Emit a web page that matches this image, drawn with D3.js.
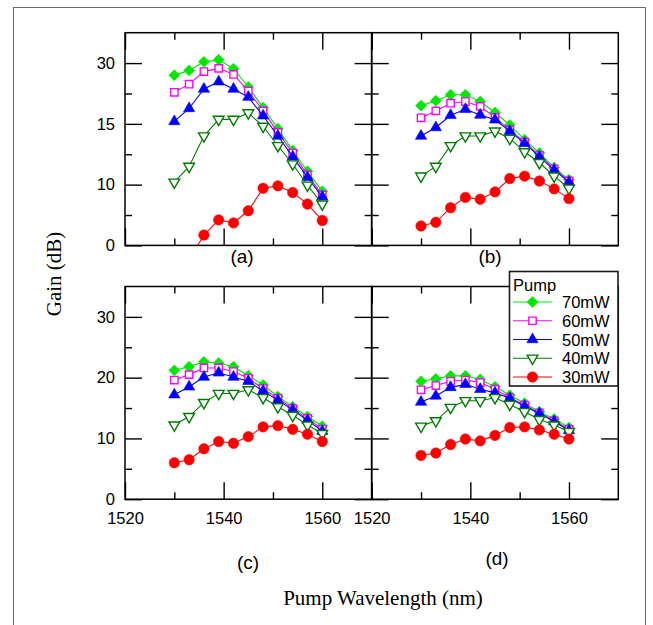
<!DOCTYPE html>
<html>
<head>
<meta charset="utf-8">
<script src="https://cdn.jsdelivr.net/npm/d3@7/dist/d3.min.js"></script>
<style>
  body { margin: 0; background: #fff; }
  svg { display: block; }
</style>
</head>
<body>
<svg id="chart" width="653" height="625"></svg>
<script>
// Pump wavelengths sampled in every panel (nm)
const wavelengths = [1530, 1533, 1536, 1539, 1542, 1545, 1548, 1551, 1554, 1557, 1560];
const pumpLevels = ["70mW", "60mW", "50mW", "40mW", "30mW"];
const panelNames = ["(a)", "(b)", "(c)", "(d)"];

// Gain (dB) for panel (a)
const gainA70 = [27.0, 28.2, 30.3, 30.8, 28.6, 24.1, 19.0, 14.6, 12.8, 11.1, 8.9];
const gainA60 = [22.8, 24.8, 27.9, 28.7, 27.2, 23.1, 18.2, 14.3, 12.6, 10.8, 8.3];
const gainA50 = [15.6, 18.8, 23.6, 25.4, 23.6, 21.6, 17.0, 14.0, 12.3, 10.6, 8.0];
const gainA40 = [10.2, 11.5, 14.0, 16.1, 16.1, 17.7, 14.8, 13.2, 11.7, 9.9, 6.8];
const gainA30 = [-5.5, -2.4, 1.7, 4.2, 3.7, 5.7, 9.4, 9.8, 8.7, 6.8, 4.1];

// Gain (dB) for panel (b)
const gainB70 = [19.5, 20.7, 22.2, 22.2, 20.5, 17.8, 14.9, 13.7, 12.6, 11.4, 10.4];
const gainB60 = [16.5, 18.2, 20.1, 20.5, 19.3, 16.6, 14.5, 13.5, 12.4, 11.3, 10.3];
const gainB50 = [14.0, 14.7, 17.1, 18.6, 17.2, 16.0, 14.4, 13.4, 12.3, 11.2, 10.2];
const gainB40 = [10.7, 11.5, 13.2, 14.0, 14.0, 14.4, 13.8, 12.7, 11.8, 10.7, 9.4];
const gainB30 = [3.2, 3.8, 6.2, 7.9, 7.6, 8.8, 10.5, 10.7, 10.3, 9.3, 7.7];

// Gain (dB) for panel (c)
const gainC70 = [21.2, 21.8, 22.6, 22.4, 21.8, 20.3, 18.8, 16.9, 15.2, 13.6, 12.0];
const gainC60 = [19.6, 20.5, 21.6, 21.6, 21.0, 19.9, 18.2, 16.6, 14.9, 13.3, 11.5];
const gainC50 = [17.2, 18.5, 20.1, 20.8, 20.1, 19.4, 17.8, 16.3, 14.7, 13.0, 11.2];
const gainC40 = [12.2, 13.6, 15.9, 17.4, 17.4, 18.0, 16.7, 15.2, 13.8, 12.2, 10.8];
const gainC30 = [6.0, 6.5, 8.3, 9.5, 9.2, 10.3, 11.9, 12.1, 11.5, 10.7, 9.5];

// Gain (dB) for panel (d)
const gainD70 = [19.4, 19.8, 20.3, 20.3, 19.7, 18.5, 17.1, 15.8, 14.4, 13.2, 11.8];
const gainD60 = [18.0, 18.7, 19.4, 19.6, 19.2, 18.1, 16.7, 15.5, 14.2, 12.9, 11.5];
const gainD50 = [16.0, 17.0, 18.4, 18.9, 18.1, 17.5, 16.6, 15.3, 14.1, 12.8, 11.3];
const gainD40 = [12.0, 12.9, 15.1, 16.2, 16.2, 16.7, 15.6, 14.4, 13.1, 12.2, 11.1];
const gainD30 = [7.2, 7.6, 9.0, 9.9, 9.6, 10.5, 11.8, 11.9, 11.4, 10.7, 9.9];

// Axis ticks
const xMajorTicks = [1520, 1540, 1560];
const xMinorTicks = [1530, 1550];
const yTopMajorTicks = [0, 10, 15, 30];
const yTopMinorTicks = [5, 12.5, 22.5];
const yBottomMajorTicks = [0, 10, 20, 30];
const yBottomMinorTicks = [5, 15, 25];

// ---- layout and styling ----
const svg = d3.select("#chart");
const colX = [125, 371.7];
const rowY = [32.7, 286.5];
const panelW = 246.6;
const panelH = 212.7;
const sansFont = "'Liberation Sans', Arial, Helvetica, sans-serif";
const serifFont = "'Liberation Serif', 'Times New Roman', serif";

const seriesStyles = [
  { color: "#00e800", shape: "diamond" },
  { color: "#ff00ff", shape: "square" },
  { color: "#0000ff", shape: "up" },
  { color: "#007a00", shape: "down" },
  { color: "#ff0000", shape: "circle" }
];

const panels = [
  { name: panelNames[0], col: 0, row: 0, series: [gainA70, gainA60, gainA50, gainA40, gainA30], label: [242, 256] },
  { name: panelNames[1], col: 1, row: 0, series: [gainB70, gainB60, gainB50, gainB40, gainB30], label: [490, 256] },
  { name: panelNames[2], col: 0, row: 1, series: [gainC70, gainC60, gainC50, gainC40, gainC30], label: [248, 562] },
  { name: panelNames[3], col: 1, row: 1, series: [gainD70, gainD60, gainD50, gainD40, gainD30], label: [497, 558] }
];

// outer figure frame
svg.append("rect")
  .attr("x", 13.5).attr("y", 7.5)
  .attr("width", 632).attr("height", 700)
  .attr("fill", "none").attr("stroke", "#6a6a6a").attr("stroke-width", 1);

const x = d3.scaleLinear().domain([1520, 1570]).range([0, panelW]);
const yPos = d3.scaleLinear().domain([0, 35]).range([panelH, 0]);
// upper row axis is labelled 0, 10, 15, 30 at evenly spaced marks
const yTop = d3.scaleLinear()
  .domain([0, 10, 15, 30, 37.5])
  .range([yPos(0), yPos(10), yPos(20), yPos(30), yPos(35)]);
const yBottom = yPos;

function markerPath(shape) {
  switch (shape) {
    case "diamond": return d3.symbol(d3.symbolSquare, 60)();
    case "square": return d3.symbol(d3.symbolSquare, 54)();
    case "up": return d3.symbol(d3.symbolTriangle, 55)();
    case "down": return d3.symbol(d3.symbolTriangle, 50)();
    default: return d3.symbol(d3.symbolCircle, 85)();
  }
}
function markerTransform(shape) {
  if (shape === "diamond") return " rotate(45)";
  if (shape === "down") return " rotate(180)";
  return "";
}
function drawMarker(sel, style) {
  const open = style.shape === "square" || style.shape === "down";
  sel.attr("d", markerPath(style.shape))
    .attr("fill", open ? "#fff" : style.color)
    .attr("stroke", style.color)
    .attr("stroke-width", open ? 1.4 : 0.6);
}

function styleAxis(g) {
  g.select(".domain").remove();
  g.selectAll(".tick line").attr("stroke", "#000").attr("stroke-width", 1.4);
  g.selectAll(".tick text")
    .attr("fill", "#000")
    .style("font-family", sansFont)
    .style("font-size", "16.5px");
}

panels.forEach((p, pi) => {
  const g = svg.append("g")
    .attr("transform", `translate(${colX[p.col]},${rowY[p.row]})`);
  const y = p.row === 0 ? yTop : yBottom;
  const yMajor = p.row === 0 ? yTopMajorTicks : yBottomMajorTicks;
  const yMinor = p.row === 0 ? yTopMinorTicks : yBottomMinorTicks;
  const showY = p.col === 0;
  const showX = p.row === 1;

  // ticks on all four sides, pointing inward
  g.append("g").call(d3.axisLeft(y).tickValues(yMajor).tickSize(-17).tickPadding(10)
      .tickFormat(showY ? d3.format("d") : () => "")).call(styleAxis);
  g.append("g").call(d3.axisLeft(y).tickValues(yMinor).tickSize(-7).tickFormat(() => "")).call(styleAxis);
  g.append("g").attr("transform", `translate(${panelW},0)`)
    .call(d3.axisRight(y).tickValues(yMajor).tickSize(-17).tickFormat(() => "")).call(styleAxis);
  g.append("g").attr("transform", `translate(${panelW},0)`)
    .call(d3.axisRight(y).tickValues(yMinor).tickSize(-7).tickFormat(() => "")).call(styleAxis);
  g.append("g")
    .call(d3.axisTop(x).tickValues(xMajorTicks).tickSize(-17).tickFormat(() => "")).call(styleAxis);
  g.append("g")
    .call(d3.axisTop(x).tickValues(xMinorTicks).tickSize(-7).tickFormat(() => "")).call(styleAxis);
  g.append("g").attr("transform", `translate(0,${panelH})`)
    .call(d3.axisBottom(x).tickValues(xMajorTicks).tickSize(-17).tickPadding(13)
      .tickFormat(showX ? d3.format("d") : () => "")).call(styleAxis);
  g.append("g").attr("transform", `translate(0,${panelH})`)
    .call(d3.axisBottom(x).tickValues(xMinorTicks).tickSize(-7).tickFormat(() => "")).call(styleAxis);

  // plotting area clip
  const clipId = "clip" + pi;
  g.append("clipPath").attr("id", clipId)
    .append("rect").attr("width", panelW).attr("height", panelH);

  const plot = g.append("g").attr("clip-path", `url(#${clipId})`);
  const line = d3.line().x((d, i) => x(wavelengths[i])).y(d => y(d));

  p.series.forEach((vals, si) => {
    const st = seriesStyles[si];
    const sg = plot.append("g");
    sg.append("path").datum(vals)
      .attr("d", line)
      .attr("fill", "none")
      .attr("stroke", st.color)
      .attr("stroke-width", 1.1);
    sg.selectAll("path.mk").data(vals).join("path")
      .attr("class", "mk")
      .attr("transform", (d, i) => `translate(${x(wavelengths[i])},${y(d)})` + markerTransform(st.shape))
      .call(drawMarker, st);
  });

  // panel frame
  g.append("rect")
    .attr("width", panelW).attr("height", panelH)
    .attr("fill", "none").attr("stroke", "#000").attr("stroke-width", 1.5);

  // panel caption
  svg.append("text")
    .attr("x", p.label[0]).attr("y", p.label[1])
    .attr("text-anchor", "middle").attr("dominant-baseline", "central")
    .style("font-family", sansFont).style("font-size", "19px")
    .text(p.name);
});

// axis titles
svg.append("text")
  .attr("transform", "translate(54,274) rotate(-90)")
  .attr("text-anchor", "middle").attr("dominant-baseline", "central")
  .style("font-family", serifFont).style("font-size", "21px")
  .text("Gain (dB)");
svg.append("text")
  .attr("x", 383).attr("y", 598)
  .attr("text-anchor", "middle").attr("dominant-baseline", "central")
  .style("font-family", serifFont).style("font-size", "21px")
  .text("Pump Wavelength (nm)");

// legend
const legend = svg.append("g");
legend.append("rect")
  .attr("x", 509.5).attr("y", 271.5)
  .attr("width", 108.5).attr("height", 114.5)
  .attr("fill", "#fff").attr("stroke", "#1a1a1a").attr("stroke-width", 1.6);
legend.append("text")
  .attr("x", 513).attr("y", 285)
  .attr("dominant-baseline", "central")
  .style("font-family", sansFont).style("font-size", "16.5px")
  .text("Pump");
const legendRowY = d3.scalePoint().domain(pumpLevels).range([302, 377]);
pumpLevels.forEach((lvl, i) => {
  const st = seriesStyles[i];
  const ly = legendRowY(lvl);
  legend.append("line")
    .attr("x1", 513).attr("x2", 552).attr("y1", ly).attr("y2", ly)
    .attr("stroke", st.color).attr("stroke-width", 1.1);
  legend.append("path")
    .attr("transform", `translate(532.5,${ly})` + markerTransform(st.shape))
    .call(drawMarker, st);
  legend.append("text")
    .attr("x", 562).attr("y", ly)
    .attr("dominant-baseline", "central")
    .style("font-family", sansFont).style("font-size", "16.5px")
    .text(lvl);
});
</script>
</body>
</html>
